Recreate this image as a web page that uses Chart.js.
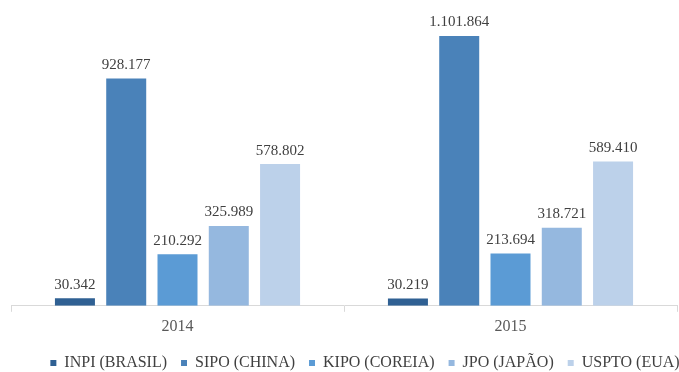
<!DOCTYPE html>
<html>
<head>
<meta charset="utf-8">
<script src="https://cdn.jsdelivr.net/npm/chart.js@4"></script>
<style>
  html, body { margin: 0; padding: 0; background: #fff; }
  #wrap { width: 679px; height: 372px; }
</style>
</head>
<body>
<div id="wrap"><canvas id="chart"></canvas></div>
<script>
const years = ['2014', '2015'];
const offices = ['INPI (BRASIL)', 'SIPO (CHINA)', 'KIPO (COREIA)', 'JPO (JAPÃO)', 'USPTO (EUA)'];
const inpi = [30342, 30219];
const sipo = [928177, 1101864];
const kipo = [210292, 213694];
const jpo = [325989, 318721];
const uspto = [578802, 589410];
const colors = ['#2f6093', '#4a82b9', '#5b9bd5', '#95b8df', '#bcd1ea'];

const series = [inpi, sipo, kipo, jpo, uspto];
const serif = 'Liberation Serif';

Chart.defaults.font.family = serif;

// thousands with dots, like 1.101.864
function fmt(v) {
  return String(v).replace(/\B(?=(\d{3})+(?!\d))/g, '.');
}

const valueLabels = {
  id: 'valueLabels',
  afterDatasetsDraw(chart) {
    const ctx = chart.ctx;
    ctx.save();
    ctx.font = '15px ' + serif;
    ctx.fillStyle = '#404040';
    ctx.textAlign = 'center';
    ctx.textBaseline = 'bottom';
    chart.data.datasets.forEach((ds, i) => {
      chart.getDatasetMeta(i).data.forEach((bar, j) => {
        ctx.fillText(fmt(ds.data[j]), bar.x, bar.y - 6);
      });
    });
    ctx.restore();
  }
};

// the original legend sits a bit right of centre
const legendShift = {
  id: 'legendShift',
  afterLayout(chart) {
    chart.legend.left += 21;
    chart.legend.right += 21;
  }
};

new Chart(document.getElementById('chart'), {
  type: 'bar',
  data: {
    labels: years,
    datasets: offices.map((name, i) => ({
      label: name,
      data: series[i],
      backgroundColor: colors[i],
      borderWidth: 0,
      categoryPercentage: 0.77,
      barPercentage: 0.78
    }))
  },
  options: {
    responsive: true,
    maintainAspectRatio: false,
    animation: false,
    layout: { padding: { top: 12, left: 11, right: 2, bottom: -9 } },
    plugins: {
      tooltip: { enabled: false },
      legend: {
        position: 'bottom',
        labels: {
          boxWidth: 6,
          boxHeight: 6,
          padding: 14,
          color: '#404040',
          font: { family: serif, size: 16 }
        }
      }
    },
    scales: {
      x: {
        grid: { display: true, drawOnChartArea: false, drawTicks: true, tickLength: 6, offset: true, color: '#d9d9d9' },
        border: { color: '#d9d9d9' },
        ticks: { color: '#595959', padding: 5, font: { family: serif, size: 16 } }
      },
      y: {
        display: false,
        min: 0,
        max: 1200000
      }
    }
  },
  plugins: [valueLabels, legendShift]
});
</script>
</body>
</html>
